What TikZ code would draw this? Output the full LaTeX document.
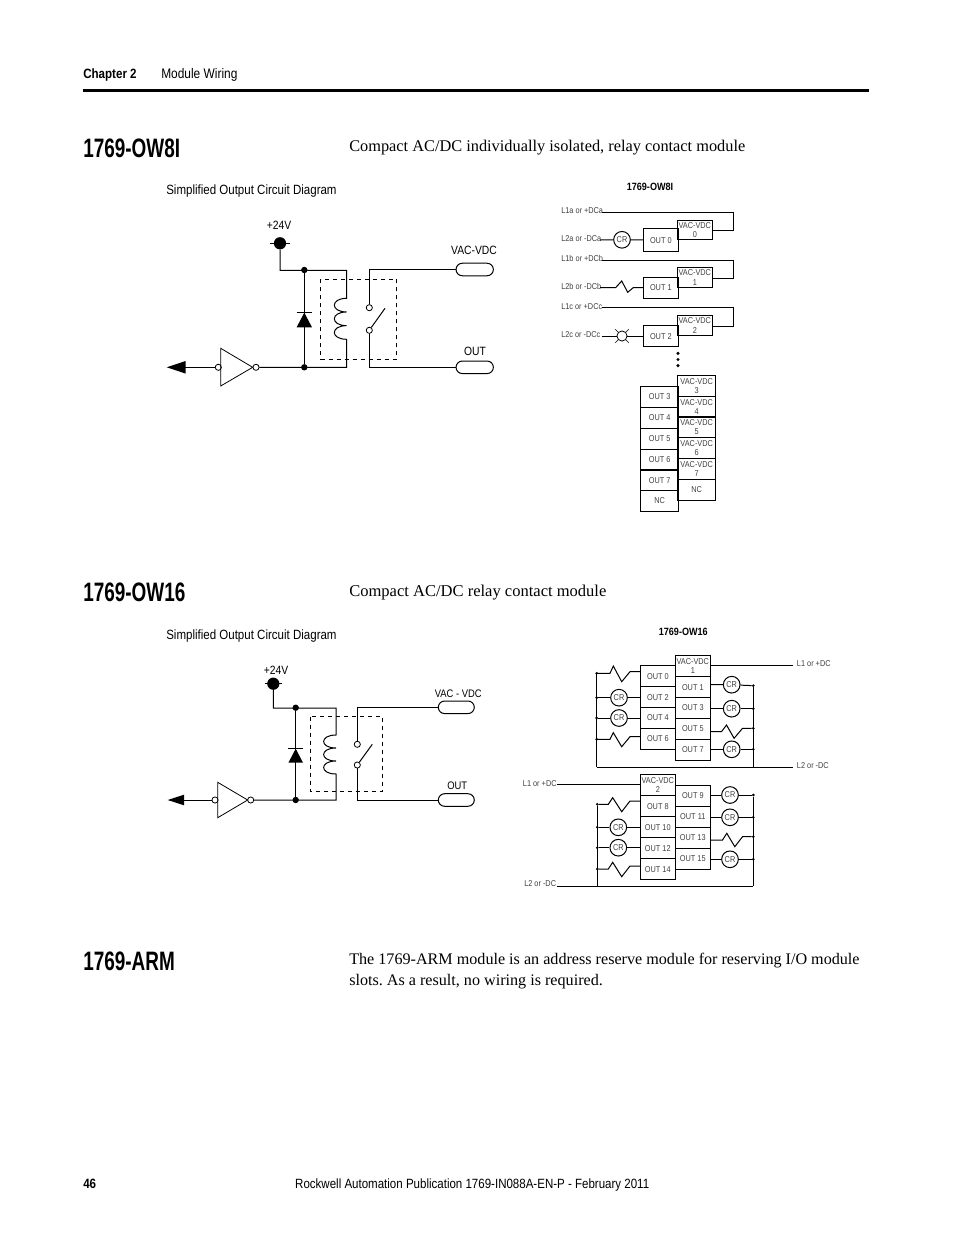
\documentclass[tikz,border=0pt]{standalone}
\usepackage{fontspec}
\setmainfont{Liberation Serif}
\newfontfamily\narrowfont[FakeStretch=0.86]{Liberation Sans}
\newfontfamily\headfont[FakeStretch=0.71]{Liberation Sans}
\usetikzlibrary{shapes.misc}
\frenchspacing
\tikzset{
    wire/.style={line width=0.75pt},
    heading/.style={anchor=base west,inner sep=0,font=\headfont\bfseries\fontsize{20}{20}\selectfont},
    bodytext/.style={anchor=base west,inner sep=0,font=\fontsize{#1}{16}\selectfont},
    pagetext/.style={anchor=base west,inner sep=0,font=\narrowfont\fontsize{10.05}{12}\selectfont},
    boldtext/.style={anchor=base west,inner sep=0,font=\narrowfont\bfseries\fontsize{10.1}{12}\selectfont},
    circlabel/.style={inner sep=0,font=\narrowfont\fontsize{9}{10}\selectfont},
    smalllabel/.style={anchor=west,inner sep=0,text=black!75,font=\narrowfont\fontsize{6.4}{7}\selectfont},
    smalltitle/.style={inner sep=0,font=\narrowfont\bfseries\fontsize{7.9}{8}\selectfont},
    cellbox/.style={draw,line width=0.75pt,inner sep=0,minimum width=26.25pt,minimum height=15.75pt,
        align=center,text=black!75,font=\narrowfont\fontsize{6.4}{6.9}\selectfont},
    widecell/.style={cellbox,minimum width=28.5pt},
    crcoil/.style={draw,circle,line width=0.75pt,inner sep=0,minimum size=12.5pt,text=black!75,
        font=\narrowfont\fontsize{6.4}{7}\selectfont},
    bubble/.style={draw,circle,line width=0.6pt,inner sep=0,minimum size=4.6pt},
    junction/.style={fill,circle,inner sep=0,minimum size=#1},
    junction/.default=4.8pt,
    supply/.style={fill,circle,inner sep=0,minimum size=9.2pt},
    terminal/.style={draw,rounded rectangle,line width=0.75pt,inner sep=0,minimum width=28pt,minimum height=9.4pt},
    lamp/.style={draw,circle,line width=0.6pt,inner sep=0,minimum size=7.6pt},
    relaybox/.style={draw,dashed,line width=0.6pt},
}
\begin{document}
\begin{tikzpicture}[x=0.75pt,y=-0.75pt]
    \useasboundingbox (0,0) rectangle (954,1235);
    \fill[white] (0,0) rectangle (954,1235);

    \node[boldtext] (chapter) at (83,78) {Chapter 2};
    \node[pagetext,font=\narrowfont\fontsize{10.4}{12}\selectfont] (section) at (161,78) {Module Wiring};
    \coordinate (rulea) at (83,90.5);
    \coordinate (ruleb) at (869,90.5);
    \draw[line width=2.4pt] (rulea) -- (ruleb);

    \node[heading] (headi) at (83,157) {1769-OW8I};
    \node[bodytext=12.25] (bodyi) at (349,151) {Compact AC/DC individually isolated, relay contact module};
    \node[pagetext] (simpi) at (166,194) {Simplified Output Circuit Diagram};
    \node[heading] (heads) at (83,601) {1769-OW16};
    \node[bodytext=12.4] (bodys) at (349,596) {Compact AC/DC relay contact module};
    \node[pagetext] (simps) at (166,639) {Simplified Output Circuit Diagram};
    \node[heading] (heada) at (83,970) {1769-ARM};
    \node[bodytext=12.1] (bodya) at (349,964) {The 1769-ARM module is an address reserve module for reserving I/O module};
    \node[bodytext=12.1] (bodyb) at (349,985) {slots. As a result, no wiring is required.};
    \node[boldtext] (pagenum) at (83,1188) {46};
    \node[pagetext,anchor=base east] (footer) at (649.5,1188) {Rockwell Automation Publication 1769-IN088A-EN-P - February 2011};

    % first circuit
    \node[circlabel] (pluski) at (279,225) {+24V};
    \node[supply] (supi) at (280,243.3) {};
    \coordinate (supil) at (270,243.3);
    \coordinate (supir) at (290,243.3);
    \draw[wire] (supil) -- (supir);
    \node[junction] (topi) at (304.3,270) {};
    \node[junction] (boti) at (304.3,367.3) {};
    \coordinate (coilia) at (346.7,270.3);
    \coordinate (coilib) at (346.7,298.3);
    \coordinate (coilic) at (346.7,339.3);
    \coordinate (coilid) at (346.7,367.3);
    \node[bubble] (bubia) at (256,367.3) {};
    \node[bubble] (bubib) at (218.3,367.3) {};
    \draw[wire] (supi) |- (coilia) -- (coilib)
        .. controls +(-16.5,0) and +(-16.5,0) .. ++(0,13.67)
        .. controls +(-16.5,0) and +(-16.5,0) .. ++(0,13.67)
        .. controls +(-16.5,0) and +(-16.5,0) .. (coilic) -- (coilid) -- (bubia);
    \draw[wire] (topi) -- (boti);
    \fill (304.3,312.7) -- (312,327.3) -- (296.6,327.3) -- cycle;
    \draw[wire] (296.6,312.7) -- (312,312.7);
    \draw[line width=0.6pt] (252.7,367.3) -- (220.7,348.3) -- (220.7,386) -- cycle;
    \fill (166.7,367.3) -- (185.7,361) -- (185.7,373.6) -- cycle;
    \coordinate (arri) at (185,367.3);
    \draw[wire] (arri) -- (bubib);
    \draw[relaybox] (320.7,279.3) rectangle (396.7,359.3);
    \node[bubble] (swia) at (369.3,307.7) {};
    \node[bubble] (swib) at (369.3,330.3) {};
    \coordinate (bladei) at (385,308.3);
    \draw[wire] (swib) -- (bladei);
    \node[terminal] (vaci) at (474.7,269.5) {};
    \node[terminal] (outi) at (474.7,367.3) {};
    \draw[wire] (swia) |- (vaci);
    \draw[wire] (swib) |- (outi);
    \node[circlabel] (vacli) at (474,250) {VAC-VDC};
    \node[circlabel] (outli) at (475,351) {OUT};

    % second circuit
    \node[circlabel] (pluss) at (276,670) {+24V};
    \node[supply] (sups) at (273.3,683.7) {};
    \coordinate (supsl) at (265,683.7);
    \coordinate (supsr) at (282.3,683.7);
    \draw[wire] (supsl) -- (supsr);
    \node[junction] (tops) at (295.7,707.7) {};
    \node[junction] (bots) at (295.7,800) {};
    \coordinate (coilsa) at (336,708);
    \coordinate (coilsb) at (336,735);
    \coordinate (coilsc) at (336,774);
    \coordinate (coilsd) at (336,800);
    \node[bubble] (bubsa) at (250.7,800) {};
    \node[bubble] (bubsb) at (215,800) {};
    \draw[wire] (sups) |- (coilsa) -- (coilsb)
        .. controls +(-16.5,0) and +(-16.5,0) .. ++(0,13)
        .. controls +(-16.5,0) and +(-16.5,0) .. ++(0,13)
        .. controls +(-16.5,0) and +(-16.5,0) .. (coilsc) -- (coilsd) -- (bubsa);
    \draw[wire] (tops) -- (bots);
    \fill (295.7,748.7) -- (303,762.7) -- (288.4,762.7) -- cycle;
    \draw[wire] (288.4,748.7) -- (303,748.7);
    \draw[line width=0.6pt] (247.7,800) -- (217.7,782.3) -- (217.7,817.7) -- cycle;
    \fill (167.7,800) -- (184,794.7) -- (184,805.3) -- cycle;
    \coordinate (arrs) at (183,800);
    \draw[wire] (arrs) -- (bubsb);
    \draw[relaybox,line width=1pt] (310.7,716.7) rectangle (382.3,791.7);
    \node[bubble] (swsa) at (357.3,744.3) {};
    \node[bubble] (swsb) at (357.3,765) {};
    \coordinate (blades) at (372.3,744.3);
    \draw[wire] (swsb) -- (blades);
    \node[terminal,minimum width=27pt] (vacs) at (456.3,707.3) {};
    \node[terminal,minimum width=27pt] (outs) at (456.3,800) {};
    \draw[wire] (swsa) |- (vacs);
    \draw[wire] (swsb) |- (outs);
    \node[circlabel,font=\narrowfont\fontsize{8.2}{10}\selectfont] (vacls) at (458.3,693.3) {VAC - VDC};
    \node[circlabel,font=\narrowfont\fontsize{8.2}{10}\selectfont] (outls) at (457.3,786) {OUT};

    % 1769-OW8I terminals
    \node[smalltitle] (titlei) at (650,186.7) {1769-OW8I};
    \node[smalllabel] (lia) at (561,211) {L1a or +DCa};
    \node[smalllabel] (lib) at (561,239) {L2a or -DCa};
    \node[smalllabel] (lic) at (561,258.3) {L1b or +DCb};
    \node[smalllabel] (lid) at (561,286.7) {L2b or -DCb};
    \node[smalllabel] (lie) at (561,306.3) {L1c or +DCc};
    \node[smalllabel] (lif) at (561,334.5) {L2c or -DCc};

    \node[cellbox,minimum height=17pt] (oi0) at (660.8,240.3) {OUT 0};
    \node[cellbox,minimum height=14.5pt] (vi0) at (694.8,230.3) {VAC-VDC\\0};
    \node[cellbox] (oi1) at (660.8,287.8) {OUT 1};
    \node[cellbox,minimum height=14.5pt] (vi1) at (694.8,277.5) {VAC-VDC\\1};
    \node[cellbox] (oi2) at (660.8,336.2) {OUT 2};
    \node[cellbox,minimum height=14.5pt] (vi2) at (694.8,325.5) {VAC-VDC\\2};

    \coordinate (ria) at (602.3,212.3);
    \coordinate (rib) at (602.3,260.3);
    \coordinate (ric) at (602.3,307.3);
    \coordinate (turnia) at (733.7,230);
    \coordinate (turnib) at (733.7,278.3);
    \coordinate (turnic) at (733.7,326);
    \draw[wire] (ria) -| (turnia) -- (vi0.east |- turnia);
    \draw[wire] (rib) -| (turnib) -- (vi1.east |- turnib);
    \draw[wire] (ric) -| (turnic) -- (vi2.east |- turnic);

    \node[crcoil] (cri) at (622,239.8) {CR};
    \coordinate (lwia) at (600,240);
    \coordinate (lwib) at (600,287.6);
    \coordinate (lwic) at (601.7,336);
    \draw[wire] (lwia) -- (cri) -- (oi0.west |- cri);
    \draw[wire] (lwib) -- ++(15.7,0) -- ++(6,-6.6) -- ++(6,11.3) -- ++(5.6,-4.7) -- (oi1.west |- lwib);
    \node[lamp] (lmp) at (622,336) {};
    \draw[wire] (lwic) -- (lmp) -- (oi2.west |- lmp);
    \foreach \ang in {45,135,225,315}
        \draw[line width=0.5pt] (lmp.\ang) -- ++(\ang:3pt);

    \node[junction=2.6pt] (di0) at (678,353.3) {};
    \node[junction=2.6pt] (di1) at (678,359.5) {};
    \node[junction=2.6pt] (di2) at (678,365.7) {};

    \node[widecell] (oi3) at (659.7,397) {OUT 3};
    \node[widecell] (oi4) at (659.7,417.8) {OUT 4};
    \node[widecell] (oi5) at (659.7,438.8) {OUT 5};
    \node[widecell] (oi6) at (659.7,459.8) {OUT 6};
    \node[widecell] (oi7) at (659.7,480.3) {OUT 7};
    \node[widecell] (oi8) at (659.7,500.8) {NC};
    \node[widecell] (vi3) at (696.7,386.2) {VAC-VDC\\3};
    \node[widecell] (vi4) at (696.7,406.7) {VAC-VDC\\4};
    \node[widecell] (vi5) at (696.7,427.2) {VAC-VDC\\5};
    \node[widecell] (vi6) at (696.7,448.2) {VAC-VDC\\6};
    \node[widecell] (vi7) at (696.7,469) {VAC-VDC\\7};
    \node[widecell] (vi8) at (696.7,489.8) {NC};

    % 1769-OW16 upper block
    \node[smalltitle] (titles) at (683.3,631.7) {1769-OW16};
    \node[cellbox] (ou0) at (658,676.2) {OUT 0};
    \node[cellbox] (ou2) at (658,697.2) {OUT 2};
    \node[cellbox] (ou4) at (658,718) {OUT 4};
    \node[cellbox] (ou6) at (658,738.8) {OUT 6};
    \node[cellbox] (vu1) at (692.8,666.2) {VAC-VDC\\1};
    \node[cellbox] (ou1) at (692.8,687.2) {OUT 1};
    \node[cellbox] (ou3) at (692.8,708) {OUT 3};
    \node[cellbox] (ou5) at (692.8,728.8) {OUT 5};
    \node[cellbox] (ou7) at (692.8,750) {OUT 7};

    \coordinate (lua) at (792.7,665);
    \coordinate (lub) at (792.7,767);
    \coordinate (bua) at (596.7,767);
    \coordinate (bub) at (753.3,767);
    \node[smalllabel] (lluA) at (796.7,663.5) {L1 or +DC};
    \node[smalllabel] (lluB) at (796.7,766) {L2 or -DC};
    \draw[wire] (vu1.east |- lua) -- (lua);
    \draw[wire] (bua) -- (lub);

    \coordinate (luz0) at (596.7,673.3);
    \coordinate (luz6) at (596.7,739.3);
    \node[crcoil] (cru2) at (619,697.7) {CR};
    \node[crcoil] (cru4) at (619,718) {CR};
    \node[junction=2.2pt] (ldu2) at (596.7,697.7) {};
    \node[junction=2.2pt] (ldu4) at (596.7,718) {};
    \node[junction=2.2pt] (ldu0) at (596.7,673.3) {};
    \node[junction=2.2pt] (ldu6) at (596.7,739.3) {};
    \draw[wire] (luz0) -- (bua);
    \draw[wire] (luz0) -- ++(13.3,0) -- ++(3.3,-7.3) -- ++(8.4,15.7) -- ++(8.3,-10) -- (ou0.west |- 0,671.7);
    \draw[wire] (ldu2) -- (cru2) -- (ou2.west |- cru2);
    \draw[wire] (ldu4) -- (cru4) -- (ou4.west |- cru4);
    \draw[wire] (luz6) -- ++(13.3,0) -- ++(3.3,-6.6) -- ++(8.4,14) -- ++(8.3,-10) -- (ou6.west |- 0,736.7);

    \node[junction=2.2pt] (rdu1) at (753.3,685.7) {};
    \node[junction=2.2pt] (rdu3) at (753.3,708.7) {};
    \node[junction=2.2pt] (rdu5) at (753.3,728.3) {};
    \node[junction=2.2pt] (rdu7) at (753.3,749.3) {};
    \node[crcoil] (cru1) at (731.7,684.7) {CR};
    \node[crcoil] (cru3) at (731.7,708.7) {CR};
    \node[crcoil] (cru7) at (731.7,749.3) {CR};
    \draw[wire] (rdu1) -- (bub);
    \draw[wire] (ou1.east |- cru1) -- (cru1) -- (rdu1);
    \draw[wire] (ou3.east |- cru3) -- (cru3) -- (rdu3);
    \draw[wire] (ou5.east |- 0,731.7) -- ++(10.7,0) -- ++(5,-6.7) -- ++(7.6,13.3) -- ++(8.4,-10) -- (rdu5);
    \draw[wire] (ou7.east |- cru7) -- (cru7) -- (rdu7);

    % 1769-OW16 lower block
    \node[cellbox] (vl2) at (657.8,785) {VAC-VDC\\2};
    \node[cellbox] (ol8) at (657.8,806.2) {OUT 8};
    \node[cellbox] (ol10) at (657.8,827.2) {OUT 10};
    \node[cellbox] (ol12) at (657.8,848.2) {OUT 12};
    \node[cellbox] (ol14) at (657.8,869.2) {OUT 14};
    \node[cellbox] (ol9) at (692.8,795.6) {OUT 9};
    \node[cellbox] (ol11) at (692.8,816.8) {OUT 11};
    \node[cellbox] (ol13) at (692.8,837.8) {OUT 13};
    \node[cellbox] (ol15) at (692.8,858.8) {OUT 15};

    \node[smalllabel] (llA) at (522.7,784) {L1 or +DC};
    \node[smalllabel] (llB) at (524,883.5) {L2 or -DC};
    \coordinate (lla) at (557.3,784.3);
    \coordinate (llb) at (556.7,886);
    \coordinate (blb) at (753.3,886);
    \coordinate (blc) at (597.3,886);
    \draw[wire] (lla) -- (vl2.west |- lla);
    \draw[wire] (llb) -- (blb);

    \node[junction=2.2pt] (ldl8) at (597.3,804.3) {};
    \node[junction=2.2pt] (ldl10) at (597.3,827.3) {};
    \node[junction=2.2pt] (ldl12) at (597.3,847.7) {};
    \node[junction=2.2pt] (ldl14) at (597.3,869) {};
    \node[crcoil] (crl10) at (618.3,827.3) {CR};
    \node[crcoil] (crl12) at (618.3,847.7) {CR};
    \draw[wire] (ldl8) -- (blc);
    \draw[wire] (ldl8) -- ++(11,0) -- ++(4.4,-6.6) -- ++(9,14) -- ++(8.3,-10.7) -- (ol8.west |- 0,801);
    \draw[wire] (ldl10) -- (crl10) -- (ol10.west |- crl10);
    \draw[wire] (ldl12) -- (crl12) -- (ol12.west |- crl12);
    \draw[wire] (ldl14) -- ++(11,0) -- ++(4.4,-6.7) -- ++(9,14.4) -- ++(8.3,-10.7) -- (ol14.west |- 0,866);

    \node[junction=2.2pt] (rdl9) at (753.3,795) {};
    \node[junction=2.2pt] (rdl11) at (753.3,817.3) {};
    \node[junction=2.2pt] (rdl13) at (753.3,836.7) {};
    \node[junction=2.2pt] (rdl15) at (753.3,859.3) {};
    \node[crcoil] (crl9) at (730,795) {CR};
    \node[crcoil] (crl11) at (730,817.3) {CR};
    \node[crcoil] (crl15) at (730,859.3) {CR};
    \draw[wire] (rdl9) -- (blb);
    \draw[wire] (ol9.east |- crl9) -- (crl9) -- (rdl9);
    \draw[wire] (ol11.east |- crl11) -- (crl11) -- (rdl11);
    \draw[wire] (ol13.east |- 0,840) -- ++(11.7,0) -- ++(4.3,-6.7) -- ++(8,13.4) -- ++(7.7,-10) -- (rdl13);
    \draw[wire] (ol15.east |- crl15) -- (crl15) -- (rdl15);
\end{tikzpicture}
\end{document}
